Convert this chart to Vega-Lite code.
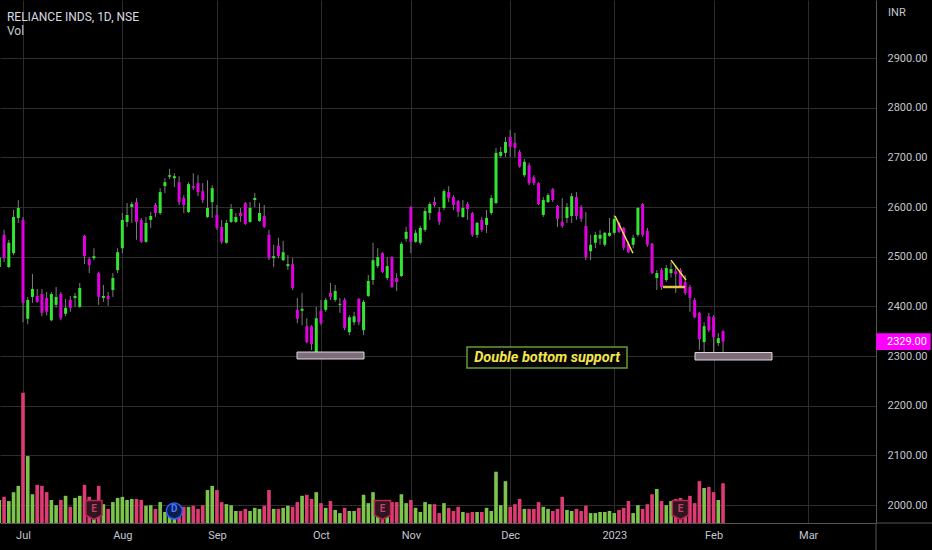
{
"$schema": "https://vega.github.io/schema/vega-lite/v6.json",
"width": 876, "height": 523,
"autosize": {"type": "none"},
"padding": {"left": 0, "top": 0, "right": 56, "bottom": 27},
"background": "#000000",
"config": {"view": {"stroke": null}, "font": "Roboto"},
"datasets": {
"candles": [
{"day":-5,"open":2479,"high":2513,"low":2473,"close":2499,"volume":4.4},
{"day":-4,"open":2544,"high":2554,"low":2489,"close":2497,"volume":5.0},
{"day":-3,"open":2479,"high":2534,"low":2477,"close":2528,"volume":4.2},
{"day":-2,"open":2507,"high":2594,"low":2503,"close":2580,"volume":5.9},
{"day":-1,"open":2578,"high":2614,"low":2568,"close":2598,"volume":7.1},
{"day":0,"open":2574,"high":2580,"low":2368,"close":2407,"volume":24.9},
{"day":1,"open":2375,"high":2419,"low":2364,"close":2413,"volume":12.8},
{"day":2,"open":2419,"high":2465,"low":2407,"close":2435,"volume":5.5},
{"day":3,"open":2421,"high":2435,"low":2407,"close":2409,"volume":7.3},
{"day":4,"open":2425,"high":2435,"low":2380,"close":2387,"volume":7.1},
{"day":5,"open":2417,"high":2429,"low":2382,"close":2389,"volume":5.9},
{"day":6,"open":2372,"high":2429,"low":2370,"close":2425,"volume":4.4},
{"day":7,"open":2403,"high":2439,"low":2397,"close":2419,"volume":3.4},
{"day":8,"open":2425,"high":2429,"low":2372,"close":2376,"volume":4.4},
{"day":9,"open":2385,"high":2415,"low":2380,"close":2397,"volume":5.2},
{"day":10,"open":2413,"high":2421,"low":2389,"close":2397,"volume":3.1},
{"day":11,"open":2417,"high":2427,"low":2399,"close":2421,"volume":4.8},
{"day":12,"open":2399,"high":2447,"low":2397,"close":2437,"volume":5.2},
{"day":13,"open":2542,"high":2544,"low":2485,"close":2501,"volume":7.3},
{"day":14,"open":2495,"high":2499,"low":2467,"close":2483,"volume":5.0},
{"day":15,"open":2497,"high":2517,"low":2493,"close":2501,"volume":4.0},
{"day":16,"open":2467,"high":2470,"low":2403,"close":2419,"volume":7.1},
{"day":17,"open":2417,"high":2443,"low":2409,"close":2421,"volume":3.6},
{"day":18,"open":2421,"high":2429,"low":2401,"close":2415,"volume":2.7},
{"day":19,"open":2433,"high":2467,"low":2419,"close":2457,"volume":4.0},
{"day":20,"open":2473,"high":2517,"low":2467,"close":2509,"volume":4.8},
{"day":21,"open":2517,"high":2588,"low":2507,"close":2574,"volume":5.0},
{"day":22,"open":2570,"high":2608,"low":2560,"close":2584,"volume":4.4},
{"day":23,"open":2600,"high":2610,"low":2568,"close":2606,"volume":4.6},
{"day":24,"open":2610,"high":2618,"low":2534,"close":2570,"volume":4.6},
{"day":25,"open":2574,"high":2578,"low":2528,"close":2530,"volume":4.4},
{"day":26,"open":2530,"high":2580,"low":2528,"close":2568,"volume":3.3},
{"day":27,"open":2574,"high":2590,"low":2558,"close":2582,"volume":3.4},
{"day":28,"open":2604,"high":2608,"low":2580,"close":2588,"volume":2.7},
{"day":29,"open":2588,"high":2638,"low":2584,"close":2630,"volume":4.0},
{"day":30,"open":2642,"high":2658,"low":2628,"close":2650,"volume":2.1},
{"day":31,"open":2661,"high":2677,"low":2656,"close":2664,"volume":2.1},
{"day":32,"open":2658,"high":2668,"low":2640,"close":2662,"volume":1.9},
{"day":33,"open":2650,"high":2662,"low":2604,"close":2610,"volume":1.9},
{"day":34,"open":2618,"high":2624,"low":2588,"close":2604,"volume":3.1},
{"day":35,"open":2590,"high":2650,"low":2588,"close":2646,"volume":3.1},
{"day":36,"open":2642,"high":2668,"low":2634,"close":2638,"volume":3.3},
{"day":37,"open":2648,"high":2664,"low":2622,"close":2630,"volume":2.7},
{"day":38,"open":2632,"high":2648,"low":2608,"close":2614,"volume":3.4},
{"day":39,"open":2580,"high":2654,"low":2578,"close":2598,"volume":6.3},
{"day":40,"open":2610,"high":2644,"low":2578,"close":2638,"volume":7.1},
{"day":41,"open":2584,"high":2604,"low":2554,"close":2558,"volume":6.3},
{"day":42,"open":2560,"high":2574,"low":2526,"close":2530,"volume":4.0},
{"day":43,"open":2528,"high":2574,"low":2526,"close":2568,"volume":3.6},
{"day":44,"open":2570,"high":2606,"low":2568,"close":2596,"volume":3.4},
{"day":45,"open":2570,"high":2588,"low":2568,"close":2580,"volume":2.3},
{"day":46,"open":2588,"high":2598,"low":2570,"close":2582,"volume":2.3},
{"day":47,"open":2608,"high":2610,"low":2564,"close":2566,"volume":2.7},
{"day":48,"open":2570,"high":2610,"low":2568,"close":2598,"volume":2.3},
{"day":49,"open":2614,"high":2628,"low":2600,"close":2618,"volume":2.9},
{"day":50,"open":2572,"high":2608,"low":2570,"close":2588,"volume":2.7},
{"day":51,"open":2582,"high":2604,"low":2558,"close":2560,"volume":3.3},
{"day":52,"open":2544,"high":2554,"low":2493,"close":2497,"volume":6.3},
{"day":53,"open":2497,"high":2524,"low":2479,"close":2501,"volume":2.7},
{"day":54,"open":2522,"high":2538,"low":2497,"close":2501,"volume":2.7},
{"day":55,"open":2493,"high":2532,"low":2491,"close":2509,"volume":2.9},
{"day":56,"open":2481,"high":2503,"low":2473,"close":2485,"volume":3.3},
{"day":57,"open":2485,"high":2497,"low":2433,"close":2437,"volume":3.1},
{"day":58,"open":2393,"high":2417,"low":2366,"close":2375,"volume":4.0},
{"day":59,"open":2391,"high":2427,"low":2362,"close":2395,"volume":5.2},
{"day":60,"open":2360,"high":2376,"low":2326,"close":2328,"volume":5.4},
{"day":61,"open":2360,"high":2362,"low":2312,"close":2324,"volume":4.6},
{"day":62,"open":2306,"high":2399,"low":2296,"close":2376,"volume":5.9},
{"day":63,"open":2391,"high":2413,"low":2362,"close":2366,"volume":3.8},
{"day":64,"open":2393,"high":2417,"low":2389,"close":2413,"volume":2.9},
{"day":65,"open":2427,"high":2447,"low":2413,"close":2419,"volume":4.2},
{"day":66,"open":2413,"high":2443,"low":2409,"close":2431,"volume":2.5},
{"day":67,"open":2403,"high":2417,"low":2387,"close":2405,"volume":1.9},
{"day":68,"open":2413,"high":2417,"low":2352,"close":2356,"volume":2.9},
{"day":69,"open":2348,"high":2382,"low":2342,"close":2378,"volume":2.3},
{"day":70,"open":2368,"high":2389,"low":2362,"close":2380,"volume":2.3},
{"day":71,"open":2415,"high":2417,"low":2362,"close":2368,"volume":2.9},
{"day":72,"open":2352,"high":2413,"low":2342,"close":2409,"volume":5.4},
{"day":73,"open":2421,"high":2463,"low":2419,"close":2451,"volume":3.8},
{"day":74,"open":2453,"high":2528,"low":2443,"close":2493,"volume":5.9},
{"day":75,"open":2481,"high":2517,"low":2477,"close":2499,"volume":3.8},
{"day":76,"open":2507,"high":2509,"low":2467,"close":2469,"volume":4.4},
{"day":77,"open":2457,"high":2499,"low":2453,"close":2481,"volume":4.0},
{"day":78,"open":2499,"high":2501,"low":2437,"close":2439,"volume":4.0},
{"day":79,"open":2457,"high":2467,"low":2431,"close":2449,"volume":4.0},
{"day":80,"open":2461,"high":2530,"low":2459,"close":2526,"volume":5.5},
{"day":81,"open":2536,"high":2560,"low":2530,"close":2550,"volume":3.8},
{"day":82,"open":2600,"high":2602,"low":2507,"close":2530,"volume":4.4},
{"day":83,"open":2530,"high":2554,"low":2528,"close":2548,"volume":2.9},
{"day":84,"open":2528,"high":2562,"low":2524,"close":2558,"volume":2.1},
{"day":85,"open":2554,"high":2598,"low":2550,"close":2592,"volume":4.0},
{"day":86,"open":2588,"high":2610,"low":2574,"close":2606,"volume":3.6},
{"day":87,"open":2610,"high":2620,"low":2600,"close":2604,"volume":3.6},
{"day":88,"open":2590,"high":2600,"low":2564,"close":2570,"volume":1.9},
{"day":89,"open":2598,"high":2636,"low":2594,"close":2632,"volume":3.8},
{"day":90,"open":2630,"high":2642,"low":2610,"close":2618,"volume":2.9},
{"day":91,"open":2620,"high":2624,"low":2594,"close":2604,"volume":2.3},
{"day":92,"open":2612,"high":2614,"low":2580,"close":2590,"volume":3.1},
{"day":93,"open":2580,"high":2614,"low":2578,"close":2598,"volume":2.1},
{"day":94,"open":2606,"high":2610,"low":2574,"close":2596,"volume":1.9},
{"day":95,"open":2588,"high":2590,"low":2540,"close":2544,"volume":2.1},
{"day":96,"open":2544,"high":2570,"low":2538,"close":2568,"volume":2.1},
{"day":97,"open":2574,"high":2580,"low":2550,"close":2554,"volume":2.1},
{"day":98,"open":2564,"high":2594,"low":2548,"close":2578,"volume":2.9},
{"day":99,"open":2588,"high":2624,"low":2584,"close":2618,"volume":2.3},
{"day":100,"open":2608,"high":2719,"low":2606,"close":2709,"volume":9.8},
{"day":101,"open":2703,"high":2721,"low":2699,"close":2711,"volume":3.4},
{"day":102,"open":2709,"high":2741,"low":2701,"close":2731,"volume":8.0},
{"day":103,"open":2741,"high":2755,"low":2701,"close":2721,"volume":3.1},
{"day":104,"open":2729,"high":2749,"low":2701,"close":2719,"volume":3.6},
{"day":105,"open":2711,"high":2715,"low":2679,"close":2681,"volume":4.6},
{"day":106,"open":2664,"high":2697,"low":2660,"close":2691,"volume":2.7},
{"day":107,"open":2684,"high":2689,"low":2644,"close":2648,"volume":2.7},
{"day":108,"open":2660,"high":2664,"low":2644,"close":2648,"volume":2.7},
{"day":109,"open":2648,"high":2650,"low":2604,"close":2606,"volume":4.0},
{"day":110,"open":2584,"high":2620,"low":2580,"close":2614,"volume":3.1},
{"day":111,"open":2610,"high":2628,"low":2608,"close":2624,"volume":2.7},
{"day":112,"open":2636,"high":2638,"low":2610,"close":2614,"volume":2.3},
{"day":113,"open":2602,"high":2604,"low":2560,"close":2576,"volume":2.7},
{"day":114,"open":2570,"high":2618,"low":2558,"close":2562,"volume":5.0},
{"day":115,"open":2578,"high":2608,"low":2568,"close":2600,"volume":2.5},
{"day":116,"open":2582,"high":2628,"low":2568,"close":2622,"volume":2.3},
{"day":117,"open":2620,"high":2630,"low":2574,"close":2582,"volume":2.7},
{"day":118,"open":2600,"high":2604,"low":2570,"close":2576,"volume":2.3},
{"day":119,"open":2562,"high":2590,"low":2493,"close":2499,"volume":3.3},
{"day":120,"open":2511,"high":2544,"low":2493,"close":2524,"volume":1.9},
{"day":121,"open":2528,"high":2550,"low":2517,"close":2544,"volume":1.9},
{"day":122,"open":2536,"high":2554,"low":2524,"close":2544,"volume":2.1},
{"day":123,"open":2524,"high":2550,"low":2520,"close":2548,"volume":2.1},
{"day":124,"open":2542,"high":2578,"low":2540,"close":2548,"volume":2.3},
{"day":125,"open":2548,"high":2584,"low":2544,"close":2576,"volume":1.9},
{"day":126,"open":2568,"high":2570,"low":2548,"close":2550,"volume":2.5},
{"day":127,"open":2558,"high":2560,"low":2513,"close":2518,"volume":2.9},
{"day":128,"open":2526,"high":2530,"low":2507,"close":2509,"volume":4.2},
{"day":129,"open":2524,"high":2544,"low":2517,"close":2538,"volume":1.9},
{"day":130,"open":2544,"high":2600,"low":2540,"close":2598,"volume":3.4},
{"day":131,"open":2606,"high":2608,"low":2540,"close":2544,"volume":2.7},
{"day":132,"open":2552,"high":2558,"low":2520,"close":2524,"volume":3.6},
{"day":133,"open":2526,"high":2528,"low":2465,"close":2467,"volume":5.5},
{"day":134,"open":2457,"high":2473,"low":2433,"close":2467,"volume":6.5},
{"day":135,"open":2473,"high":2477,"low":2433,"close":2439,"volume":4.2},
{"day":136,"open":2453,"high":2483,"low":2449,"close":2477,"volume":3.4},
{"day":137,"open":2467,"high":2489,"low":2458,"close":2475,"volume":4.2},
{"day":138,"open":2471,"high":2483,"low":2427,"close":2465,"volume":4.6},
{"day":139,"open":2473,"high":2477,"low":2437,"close":2439,"volume":4.8},
{"day":140,"open":2449,"high":2463,"low":2423,"close":2427,"volume":4.4},
{"day":141,"open":2439,"high":2443,"low":2389,"close":2417,"volume":5.2},
{"day":142,"open":2413,"high":2417,"low":2376,"close":2378,"volume":3.8},
{"day":143,"open":2387,"high":2389,"low":2312,"close":2334,"volume":8.0},
{"day":144,"open":2328,"high":2368,"low":2302,"close":2360,"volume":6.7},
{"day":145,"open":2380,"high":2387,"low":2348,"close":2352,"volume":6.9},
{"day":146,"open":2378,"high":2382,"low":2298,"close":2338,"volume":5.9},
{"day":147,"open":2326,"high":2346,"low":2320,"close":2336,"volume":4.4},
{"day":148,"open":2350,"high":2352,"low":2306,"close":2329,"volume":7.6}
],
"supports": [
{"from": 57.93, "to": 72.09, "bottom": 2294, "top": 2308},
{"from": 142.07, "to": 158.35, "bottom": 2292, "top": 2307}
],
"trendlines": [
{"from": 125.16, "to": 128.96, "start": 2582, "end": 2507},
{"from": 137.0, "to": 140.17, "start": 2493, "end": 2453}
],
"levels": [
{"from": 135.3, "to": 139.96, "start": 2439, "end": 2439}
],
"callouts": [
{"from": 93.87, "to": 127.7, "bottom": 2276, "top": 2318, "mid": 110.8, "level": 2297, "label": "Double bottom support"}
],
"events": [
{"day": 15, "kind": "E"},
{"day": 32, "kind": "D"},
{"day": 76, "kind": "E"},
{"day": 139, "kind": "E"}
]
},
"layer": [
{
 "data": {"name": "candles"},
 "mark": {"type": "rule", "color": "#7d7d7d", "strokeWidth": 1},
 "encoding": {
  "x": {"field": "day", "type": "quantitative", "title": null, "scale": {"domain": [-4.863, 180.338], "nice": false, "zero": false, "padding": 0},
        "axis": {"values": [0,21,41,63,82,103,125,146,166], "grid": true, "gridColor": "#2c2c2c", "domainColor": "#555555", "ticks": false, "labelPadding": 6, "labelFont": "Roboto", "labelFontSize": 11, "labelColor": "#c3c6ce", "labelFlush": false, "labelOverlap": false,
                 "labelExpr": "datum.value == 0 ? 'Jul' : datum.value == 21 ? 'Aug' : datum.value == 41 ? 'Sep' : datum.value == 63 ? 'Oct' : datum.value == 82 ? 'Nov' : datum.value == 103 ? 'Dec' : datum.value == 125 ? '2023' : datum.value == 146 ? 'Feb' : 'Mar'"}},
  "y": {"field": "low", "type": "quantitative", "title": null, "scale": {"domain": [1963.8, 3016.8], "nice": false, "zero": false, "padding": 0},
        "axis": {"orient": "right", "values": [2000,2100,2200,2300,2400,2500,2600,2700,2800,2900], "format": ".2f", "grid": true, "gridColor": "#2c2c2c", "domainColor": "#555555", "ticks": false, "labelPadding": 11, "labelFont": "Roboto", "labelFontSize": 11, "labelColor": "#c3c6ce", "labelOverlap": false}},
  "y2": {"field": "high"}
 }
},
{
 "data": {"name": "candles"},
 "mark": {"type": "bar", "size": 3.6},
 "encoding": {
  "x": {"field": "day", "type": "quantitative", "title": null, "scale": {"domain": [-4.863, 180.338], "nice": false, "zero": false, "padding": 0}},
  "y": {"field": "volume", "type": "quantitative", "scale": {"domain": [0, 100], "nice": false, "padding": 0}, "axis": null, "stack": null},
  "color": {"condition": {"test": "datum.close >= datum.open", "value": "#7cc44c"}, "value": "#de3b74"}
 }
},
{
 "data": {"name": "candles"},
 "mark": {"type": "bar", "size": 3},
 "encoding": {
  "x": {"field": "day", "type": "quantitative", "title": null, "scale": {"domain": [-4.863, 180.338], "nice": false, "zero": false, "padding": 0}},
  "y": {"field": "open", "type": "quantitative", "scale": {"domain": [1963.8, 3016.8], "nice": false, "zero": false, "padding": 0}, "axis": null},
  "y2": {"field": "close"},
  "color": {"condition": {"test": "datum.close >= datum.open", "value": "#33e533"}, "value": "#e000e0"}
 }
},
{
 "data": {"name": "supports"},
 "mark": {"type": "rect", "fill": "#7f6c7a", "stroke": "#dcdcdc", "strokeWidth": 1},
 "encoding": {
  "x": {"field": "from", "type": "quantitative", "title": null, "scale": {"domain": [-4.863, 180.338], "nice": false, "zero": false, "padding": 0}},
  "x2": {"field": "to"},
  "y": {"field": "bottom", "type": "quantitative", "scale": {"domain": [1963.8, 3016.8], "nice": false, "zero": false, "padding": 0}, "axis": null},
  "y2": {"field": "top"}
 }
},
{
 "data": {"name": "trendlines"},
 "mark": {"type": "rule", "color": "#f2e04a", "strokeWidth": 1.5},
 "encoding": {
  "x": {"field": "from", "type": "quantitative", "title": null, "scale": {"domain": [-4.863, 180.338], "nice": false, "zero": false, "padding": 0}},
  "x2": {"field": "to"},
  "y": {"field": "start", "type": "quantitative", "scale": {"domain": [1963.8, 3016.8], "nice": false, "zero": false, "padding": 0}, "axis": null},
  "y2": {"field": "end"}
 }
},
{
 "data": {"name": "levels"},
 "mark": {"type": "rule", "color": "#e3c34a", "strokeWidth": 2.5},
 "encoding": {
  "x": {"field": "from", "type": "quantitative", "title": null, "scale": {"domain": [-4.863, 180.338], "nice": false, "zero": false, "padding": 0}},
  "x2": {"field": "to"},
  "y": {"field": "start", "type": "quantitative", "scale": {"domain": [1963.8, 3016.8], "nice": false, "zero": false, "padding": 0}, "axis": null},
  "y2": {"field": "end"}
 }
},
{
 "data": {"name": "callouts"},
 "mark": {"type": "rect", "fill": "#050505", "stroke": "#6a9a34", "strokeWidth": 1.5},
 "encoding": {
  "x": {"field": "from", "type": "quantitative", "title": null, "scale": {"domain": [-4.863, 180.338], "nice": false, "zero": false, "padding": 0}},
  "x2": {"field": "to"},
  "y": {"field": "bottom", "type": "quantitative", "scale": {"domain": [1963.8, 3016.8], "nice": false, "zero": false, "padding": 0}, "axis": null},
  "y2": {"field": "top"}
 }
},
{
 "data": {"name": "callouts"},
 "mark": {"type": "text", "font": "Roboto", "fontSize": 14.5, "fontWeight": "bold", "fontStyle": "italic", "color": "#f4e64c", "align": "center", "baseline": "middle"},
 "encoding": {
  "x": {"field": "mid", "type": "quantitative", "title": null, "scale": {"domain": [-4.863, 180.338], "nice": false, "zero": false, "padding": 0}},
  "y": {"field": "level", "type": "quantitative", "scale": {"domain": [1963.8, 3016.8], "nice": false, "zero": false, "padding": 0}, "axis": null},
  "text": {"field": "label"}
 }
},
{
 "data": {"name": "events"},
 "transform": [{"filter": "datum.kind == 'E'"}],
 "mark": {"type": "point", "shape": "M-0.85,-1 L0.85,-1 L0.85,0.55 L0,1 L-0.85,0.55 Z", "size": 361, "filled": true, "fill": "#2e1520", "stroke": "#b8294f", "strokeWidth": 1.5, "opacity": 1},
 "encoding": {
  "x": {"field": "day", "type": "quantitative", "title": null, "scale": {"domain": [-4.863, 180.338], "nice": false, "zero": false, "padding": 0}},
  "y": {"datum": 1990, "type": "quantitative", "scale": {"domain": [1963.8, 3016.8], "nice": false, "zero": false, "padding": 0}, "axis": null}
 }
},
{
 "data": {"name": "events"},
 "transform": [{"filter": "datum.kind == 'D'"}],
 "mark": {"type": "point", "shape": "circle", "size": 254, "filled": true, "fill": "#0c1d4d", "stroke": "#2962ff", "strokeWidth": 1.5, "opacity": 1},
 "encoding": {
  "x": {"field": "day", "type": "quantitative", "title": null, "scale": {"domain": [-4.863, 180.338], "nice": false, "zero": false, "padding": 0}},
  "y": {"datum": 1988, "type": "quantitative", "scale": {"domain": [1963.8, 3016.8], "nice": false, "zero": false, "padding": 0}, "axis": null}
 }
},
{
 "data": {"name": "events"},
 "mark": {"type": "text", "font": "Roboto", "fontSize": 10, "fontWeight": "bold", "align": "center", "baseline": "middle"},
 "encoding": {
  "x": {"field": "day", "type": "quantitative", "title": null, "scale": {"domain": [-4.863, 180.338], "nice": false, "zero": false, "padding": 0}},
  "y": {"datum": 1991, "type": "quantitative", "scale": {"domain": [1963.8, 3016.8], "nice": false, "zero": false, "padding": 0}, "axis": null},
  "text": {"field": "kind"},
  "color": {"condition": {"test": "datum.kind == 'D'", "value": "#4a78ff"}, "value": "#c2406a"}
 }
},
{
 "data": {"values": [{"t": "RELIANCE INDS, 1D, NSE"}]},
 "mark": {"type": "text", "font": "Roboto", "fontSize": 12, "color": "#d8dae0", "align": "left", "baseline": "middle"},
 "encoding": {
  "x": {"datum": -3.4, "type": "quantitative", "title": null, "scale": {"domain": [-4.863, 180.338], "nice": false, "zero": false, "padding": 0}},
  "y": {"datum": 2983, "type": "quantitative", "scale": {"domain": [1963.8, 3016.8], "nice": false, "zero": false, "padding": 0}, "axis": null},
  "text": {"field": "t"}
 }
},
{
 "data": {"values": [{"t": "Vol"}]},
 "mark": {"type": "text", "font": "Roboto", "fontSize": 12, "color": "#c8cad0", "align": "left", "baseline": "middle"},
 "encoding": {
  "x": {"datum": -3.4, "type": "quantitative", "title": null, "scale": {"domain": [-4.863, 180.338], "nice": false, "zero": false, "padding": 0}},
  "y": {"datum": 2954, "type": "quantitative", "scale": {"domain": [1963.8, 3016.8], "nice": false, "zero": false, "padding": 0}, "axis": null},
  "text": {"field": "t"}
 }
},
{
 "data": {"values": [{"t": "INR"}]},
 "mark": {"type": "text", "font": "Roboto", "fontSize": 11, "color": "#c3c6ce", "align": "left", "baseline": "middle"},
 "encoding": {
  "x": {"datum": 182.9, "type": "quantitative", "title": null, "scale": {"domain": [-4.863, 180.338], "nice": false, "zero": false, "padding": 0}},
  "y": {"datum": 2990, "type": "quantitative", "scale": {"domain": [1963.8, 3016.8], "nice": false, "zero": false, "padding": 0}, "axis": null},
  "text": {"field": "t"}
 }
},
{
 "data": {"values": [{"edge": "bottom"}]},
 "mark": {"type": "rule", "color": "#555555", "strokeWidth": 1},
 "encoding": {
  "x": {"datum": 180.338, "type": "quantitative", "title": null, "scale": {"domain": [-4.863, 180.338], "nice": false, "zero": false, "padding": 0}},
  "x2": {"datum": 192.5},
  "y": {"datum": 1963.8, "type": "quantitative", "scale": {"domain": [1963.8, 3016.8], "nice": false, "zero": false, "padding": 0}, "axis": null}
 }
},
{
 "data": {"values": [{"edge": "right"}]},
 "mark": {"type": "rule", "color": "#555555", "strokeWidth": 1},
 "encoding": {
  "x": {"datum": 180.338, "type": "quantitative", "title": null, "scale": {"domain": [-4.863, 180.338], "nice": false, "zero": false, "padding": 0}},
  "y": {"datum": 1963.8, "type": "quantitative", "scale": {"domain": [1963.8, 3016.8], "nice": false, "zero": false, "padding": 0}, "axis": null},
  "y2": {"datum": 1905}
 }
},
{
 "data": {"values": [{"price": 2329}]},
 "mark": {"type": "rect", "fill": "#ff00ff"},
 "encoding": {
  "x": {"datum": 180.4, "type": "quantitative", "title": null, "scale": {"domain": [-4.863, 180.338], "nice": false, "zero": false, "padding": 0}},
  "x2": {"datum": 191.9},
  "y": {"datum": 2312, "type": "quantitative", "scale": {"domain": [1963.8, 3016.8], "nice": false, "zero": false, "padding": 0}, "axis": null},
  "y2": {"datum": 2346}
 }
},
{
 "data": {"values": [{"price": 2329}]},
 "mark": {"type": "text", "font": "Roboto", "fontSize": 11, "color": "#ffffff", "align": "left", "baseline": "middle"},
 "encoding": {
  "x": {"datum": 182.66, "type": "quantitative", "title": null, "scale": {"domain": [-4.863, 180.338], "nice": false, "zero": false, "padding": 0}},
  "y": {"field": "price", "type": "quantitative", "scale": {"domain": [1963.8, 3016.8], "nice": false, "zero": false, "padding": 0}, "axis": null},
  "text": {"field": "price", "format": ".2f"}
 }
}
],
"resolve": {"scale": {"y": "independent"}}
}
